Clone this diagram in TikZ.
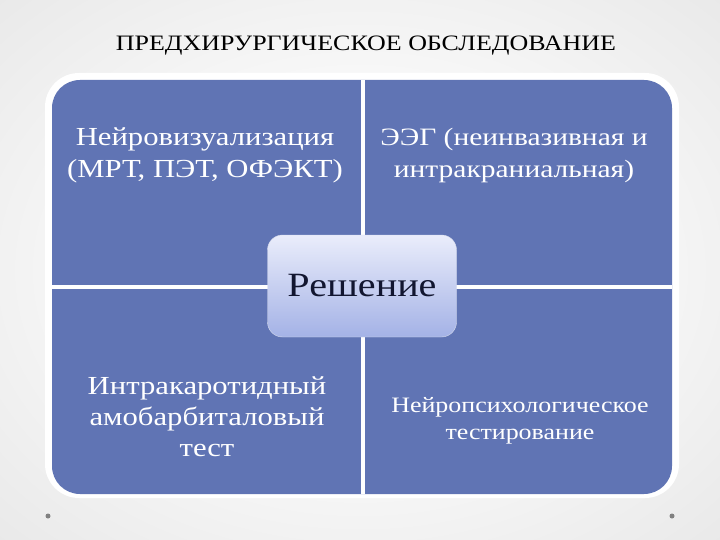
\documentclass[tikz,border=0pt]{standalone}
\usepackage{fontspec}
\setmainfont[FakeStretch=1.18]{Liberation Serif}
\definecolor{quadblue}{RGB}{96,116,180}
\definecolor{boxtop}{RGB}{234,237,251}
\definecolor{boxbottom}{RGB}{164,178,230}
\definecolor{navy}{RGB}{18,22,48}
\pgfdeclareradialshading{bgglow}{\pgfpoint{0bp}{0bp}}{color(0bp)=(white); color(18bp)=(white!97!black); color(40bp)=(white!90!black); color(71bp)=(white!74!black)}
\tikzset{
  quadtext/.style={text=white, align=center, font=\fontsize{26}{32}\selectfont},
  decision/.style={rounded corners=15, minimum width=189, minimum height=102,
    top color=boxtop, bottom color=boxbottom, draw=white!75!quadblue,
    text=navy, font=\fontsize{34}{38}\selectfont}
}
\begin{document}
\begin{tikzpicture}[x=1pt,y=-1pt]
  \shade[shading=bgglow] (0,0) rectangle (720,540);
  \useasboundingbox (0,0) rectangle (720,540);
  \node (title) at (366,46) {\fontsize{22}{26}\selectfont ПРЕДХИРУРГИЧЕСКОЕ ОБСЛЕДОВАНИЕ};
  % frame and quadrants
  \fill[white, rounded corners=34] (45,73) rectangle (679,498);
  \fill[quadblue, rounded corners=28] (52,80) rectangle (672,494);
  \draw[white, line width=4] (363,80) -- (363,494);
  \draw[white, line width=4] (52,287) -- (672,287);
  \node[quadtext] (neuro) at (205,155) {Нейровизуализация\\(МРТ, ПЭТ, ОФЭКТ)};
  \node[quadtext, font=\fontsize{25}{32}\selectfont] (eeg) at (514,155) {ЭЭГ (неинвазивная и\\интракраниальная)};
  \node[quadtext, font=\fontsize{26}{31}\selectfont] (wada) at (207,417) {Интракаротидный\\амобарбиталовый\\тест};
  \node[quadtext, font=\fontsize{22}{27}\selectfont] (npsy) at (520,421) {Нейропсихологическое\\тестирование};
  \node[decision] (dec) at (362,286) {Решение};
  \fill[gray] (48,516) circle (2.5);
  \fill[gray] (672,516) circle (2.5);
\end{tikzpicture}
\end{document}
